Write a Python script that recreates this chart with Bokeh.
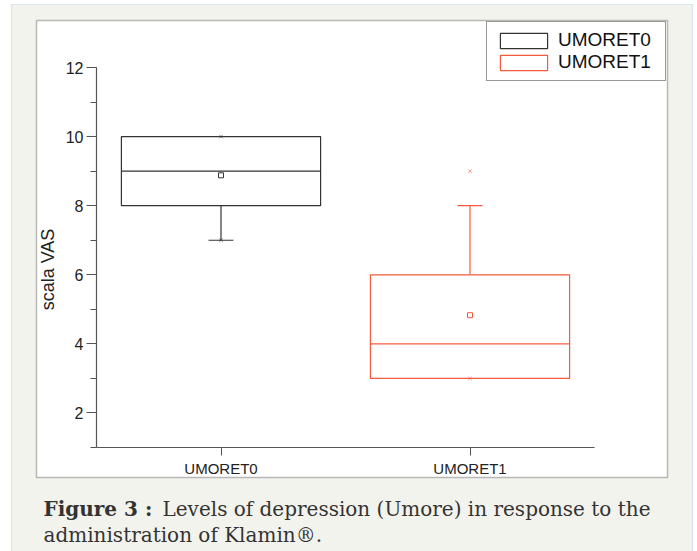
from math import pi
from bokeh.plotting import figure
from bokeh.models import (Range1d, BoxAnnotation, Label, Legend, LegendItem,
                          SingleIntervalTicker, FixedTicker)
from bokeh.embed import file_html
from bokeh.resources import INLINE

# ---- data ----
categories = ["UMORET0", "UMORET1"]
q1 = [8, 3]
median = [9, 4]
q3 = [10, 6]
whisker_low = [7, 3]
whisker_high = [10, 8]
mean = [8.88, 4.83]
pct_low = [7, 3]
pct_high = [10, 9]
colors = ["#333333", "#f55a3c"]
y_label = "scala VAS"
caption_bold = "Figure 3 :"
caption_line1 = "Levels of depression (Umore) in response to the"
caption_line2 = "administration of Klamin®."

W, H = 697, 551
GRAY = "#f3f3ee"

# frame covers the whole canvas; axes are drawn at fixed locations inside it
PX_X = 249.0     # pixels per x unit
PX_Y = 34.545    # pixels per y unit
AX_X, AX_Y = 96, 447   # canvas position of the axes corner (x=-0.5, y=1)
x0 = -0.5 - AX_X / PX_X
x1 = -0.5 + (W - AX_X) / PX_X
y0 = 1 - (H - AX_Y) / PX_Y
y1 = 1 + AX_Y / PX_Y

p = figure(width=W, height=H, output_backend="svg", toolbar_location=None,
           x_range=Range1d(x0, x1), y_range=Range1d(y0, y1), min_border=0)
p.background_fill_color = "white"
p.border_fill_color = "white"
p.outline_line_color = None
p.grid.visible = False

# ---- page decoration ----
def cbox(l, r, t, b, **kw):
    return BoxAnnotation(left=l, right=r, top=t, bottom=b, level="underlay",
                         left_units="canvas", right_units="canvas",
                         top_units="canvas", bottom_units="canvas", **kw)

p.add_layout(cbox(11, 692, 4, 560, fill_color=GRAY, fill_alpha=1,
                  line_color="#8fb4e3", line_width=1.2))
p.add_layout(cbox(36, 667, 20, 477, fill_color="white", fill_alpha=1,
                  line_color="#222222", line_width=1.5))

# ---- boxes ----
legend_items = []
for i, cat in enumerate(categories):
    c = colors[i]
    x = i
    p.segment(x0=[x, x], y0=[q3[i], q1[i]], x1=[x, x], y1=[whisker_high[i], whisker_low[i]],
              line_color=c, line_width=1.2)
    p.segment(x0=[x - 0.05, x - 0.05], y0=[whisker_high[i], whisker_low[i]],
              x1=[x + 0.05, x + 0.05], y1=[whisker_high[i], whisker_low[i]],
              line_color=c, line_width=1.2)
    r = p.vbar(x=[x], width=0.8, bottom=[q1[i]], top=[q3[i]],
               fill_color="white", line_color=c, line_width=1.2)
    p.segment(x0=[x - 0.4], y0=[median[i]], x1=[x + 0.4], y1=[median[i]],
              line_color=c, line_width=1.2)
    p.scatter(x=[x], y=[mean[i]], marker="square", size=5, fill_color="white",
              line_color=c, line_width=1)
    p.scatter(x=[x, x], y=[pct_low[i], pct_high[i]], marker="x", size=5,
              line_color=c, line_alpha=0.6, line_width=1)
    legend_items.append(LegendItem(label=cat, renderers=[r]))

legend = Legend(items=legend_items, location=(486, 470))
legend.margin = 0
legend.padding = 7
legend.spacing = 0
legend.glyph_width = 59
legend.glyph_height = 19
legend.label_height = 20
legend.label_width = 100
legend.label_standoff = 5
legend.label_text_font = "Liberation Sans"
legend.label_text_font_size = "19px"
legend.label_text_color = "#111111"
legend.border_line_color = "#333333"
legend.border_line_width = 1
legend.background_fill_color = "white"
legend.background_fill_alpha = 1
p.add_layout(legend)

# ---- axes ----
yax = p.yaxis[0]
yax.fixed_location = -0.5
yax.ticker = SingleIntervalTicker(interval=2, num_minor_ticks=2)
yax.bounds = (1, 12)
yax.major_tick_out = 10
yax.major_tick_in = 0
yax.minor_tick_out = 6
yax.minor_tick_in = 0
yax.major_label_standoff = 3
yax.major_label_text_font_size = "16px"

xax = p.xaxis[0]
xax.fixed_location = 1
xax.ticker = FixedTicker(ticks=list(range(len(categories))))
xax.major_label_overrides = {i: c for i, c in enumerate(categories)}
xax.bounds = (-0.5, len(categories) - 0.5)
xax.major_tick_out = 8
xax.major_tick_in = 0
xax.minor_tick_line_color = None
xax.major_label_standoff = 4
xax.major_label_text_font_size = "15px"

for ax in (xax, yax):
    ax.axis_line_color = "#555555"
    ax.axis_line_width = 1.2
    ax.major_tick_line_color = "#555555"
    ax.major_label_text_font = "Liberation Sans"
    ax.major_label_text_color = "#222222"
yax.minor_tick_line_color = "#555555"

p.add_layout(Label(x=47, y=269, x_units="canvas", y_units="canvas", text=y_label,
                   angle=pi / 2, text_align="center", text_baseline="alphabetic",
                   text_font="Liberation Sans", text_font_size="18px", text_color="#222222"))

# ---- caption ----
cap_kw = dict(x_units="canvas", y_units="canvas", text_font="DejaVu Serif",
              text_font_size="20px", text_color="#333333", text_baseline="alphabetic")
p.add_layout(Label(x=43, y=508, text=caption_bold, text_font_style="bold", **cap_kw))
p.add_layout(Label(x=162, y=508, text=caption_line1, **cap_kw))
p.add_layout(Label(x=43, y=534, text=caption_line2, **cap_kw))

open("out.html", "w").write(file_html(p, INLINE))
